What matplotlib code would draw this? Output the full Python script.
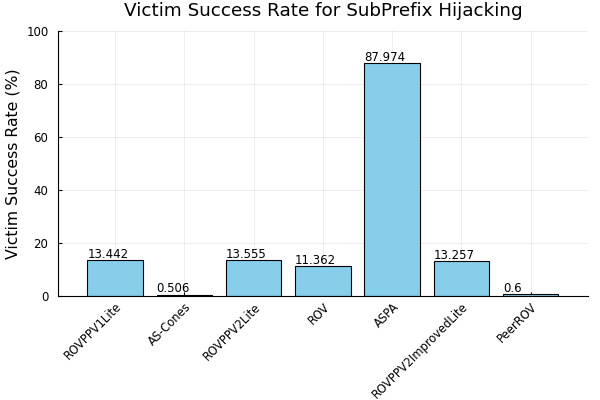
import matplotlib.pyplot as plt

# categories and values
policies = ["ROVPPV1Lite", "AS-Cones", "ROVPPV2Lite", "ROV", "ASPA",
            "ROVPPV2ImprovedLite", "PeerROV"]
success_rates = [13.442, 0.506, 13.555, 11.362, 87.974, 13.257, 0.6]
y_ticks = [0, 20, 40, 60, 80, 100]

plt.rcParams["font.family"] = "DejaVu Sans"

fig = plt.figure(figsize=(6, 4), dpi=100)
ax = fig.add_axes([0.097, 0.26, 0.883, 0.6625])

positions = list(range(1, len(policies) + 1))
ax.bar(positions, success_rates, width=0.8, color="#87CEEB",
       edgecolor="black", linewidth=0.8, zorder=2)

# value labels, left-aligned on the bar's left edge
for pos, val in zip(positions, success_rates):
    label = f"{val:g}"
    ax.text(pos - 0.4, val - 0.3, label, ha="left", va="bottom",
            fontsize=8.5, zorder=3)

ax.set_xlim(0.177, 7.83)
ax.set_ylim(0, 100)
ax.set_yticks(y_ticks)
ax.set_xticks(positions)
ax.set_xticklabels(policies, rotation=45, ha="right",
                   rotation_mode="anchor", fontsize=8.3)
ax.tick_params(axis="y", labelsize=8.5, pad=7)
ax.tick_params(axis="x", pad=3)
ax.tick_params(direction="in", length=3, width=0.8)

ax.grid(True, color="black", alpha=0.08, linewidth=0.6, zorder=0)
ax.set_axisbelow(True)

for side in ["top", "right"]:
    ax.spines[side].set_visible(False)
for side in ["left", "bottom"]:
    ax.spines[side].set_linewidth(0.8)

ax.set_ylabel("Victim Success Rate (%)", fontsize=11.3, labelpad=4)
ax.set_title("Victim Success Rate for SubPrefix Hijacking", fontsize=13.2,
             pad=11)

fig.savefig("out.png", dpi=100)
